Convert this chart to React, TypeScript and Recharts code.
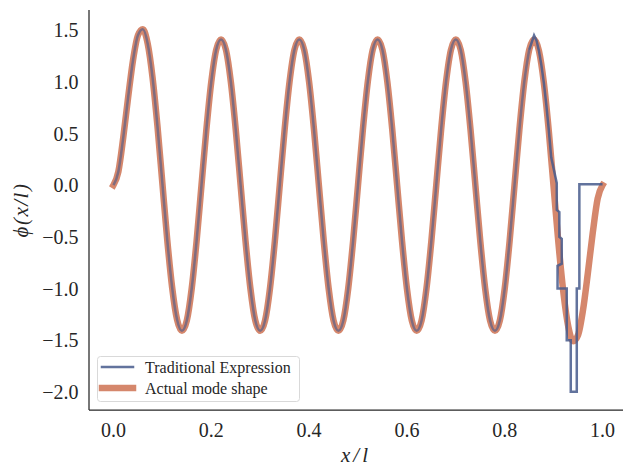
import React from 'react';
import { LineChart, Line, XAxis, YAxis, Legend, Label } from 'recharts';

const BLUE = '#465a8c';
const ORANGE = '#d5876c';
const INK = '#262626';
const SERIF = '"Liberation Serif", "DejaVu Serif", serif';

// actual mode shape phi(x/l), read every 0.01 from x = 0.00 to 1.00
const X_STEP = 0.01;
const actualShape = [
  0.0, 0.13, 0.46, 0.85, 1.21, 1.45, 1.51, 1.37, 1.04, 0.57,
  0.02, -0.53, -0.99, -1.3, -1.41, -1.31, -1.0, -0.54, 0.0, 0.54,
  1.0, 1.31, 1.41, 1.31, 1.0, 0.54, 0.0, -0.54, -1.0, -1.31,
  -1.41, -1.31, -1.0, -0.54, 0.0, 0.54, 1.0, 1.31, 1.41, 1.31,
  1.0, 0.54, 0.0, -0.54, -1.0, -1.31, -1.41, -1.31, -1.0, -0.54,
  0.0, 0.54, 1.0, 1.31, 1.41, 1.31, 1.0, 0.54, 0.0, -0.54,
  -1.0, -1.31, -1.41, -1.31, -1.0, -0.54, 0.0, 0.54, 1.0, 1.31,
  1.41, 1.31, 1.0, 0.54, 0.0, -0.54, -1.0, -1.31, -1.41, -1.31,
  -1.0, -0.54, 0.0, 0.54, 1.0, 1.31, 1.41, 1.3, 0.99, 0.53,
  -0.02, -0.57, -1.04, -1.37, -1.51, -1.45, -1.21, -0.85, -0.46, -0.13,
  0.0,
];

// traditional expression: same as the actual shape up to here...
const TRAD_SPLIT = 0.85;
// ...then it breaks up into steps near the end
const tradTailX = [
  0.85, 0.855, 0.86, 0.865, 0.87, 0.875, 0.88, 0.885, 0.89, 0.895,
  0.9064, 0.9064, 0.9117, 0.9117, 0.9166, 0.9166, 0.908, 0.908, 0.9268, 0.9268,
  0.935, 0.935, 0.9473, 0.9473, 0.9526, 0.9526, 1.0,
];
const tradTailY = [
  1.31, 1.38, 1.45, 1.4, 1.3, 1.16, 0.99, 0.78, 0.54, 0.27,
  0.02, -0.24, -0.26, -0.5, -0.52, -0.76, -0.78, -1.0, -1.0, -1.5,
  -1.5, -2.0, -2.0, -1.0, -1.0, 0.01, 0.01,
];

const xTicks = [0, 0.2, 0.4, 0.6, 0.8, 1.0];
const yTicks = [-2.0, -1.5, -1.0, -0.5, 0.0, 0.5, 1.0, 1.5];

const actualData = actualShape.map((phi, i) => ({ x: +(i * X_STEP).toFixed(2), phi }));
const tradHead = actualData.filter((d) => d.x <= TRAD_SPLIT);
const tradTail = tradTailX.map((x, i) => ({ x, phi: tradTailY[i] }));

const fmtX = (v: number) => v.toFixed(1);
const fmtY = (v: number) => (v < 0 ? '\u2212' : '') + Math.abs(v).toFixed(1);

const tickStyle = { fill: INK, fontSize: 20, fontFamily: SERIF };

function XTitle(props: any) {
  const vb = props.viewBox || { x: 89, y: 410, width: 538, height: 56 };
  const cx = 89 + (623 - 89) / 2;
  return (
    <text x={cx} y={vb.y + vb.height - 4} textAnchor="middle" fill={INK}
      style={{ fontFamily: SERIF, fontSize: 21, fontStyle: 'italic', letterSpacing: 3 }}>
      x/l
    </text>
  );
}

function YTitle(props: any) {
  const vb = props.viewBox || { x: 0, y: 10, width: 89, height: 400 };
  const x = vb.x + 21;
  const y = vb.y + vb.height / 2;
  return (
    <text x={x} y={y} textAnchor="middle" dominantBaseline="central" fill={INK}
      transform={`rotate(-90 ${x} ${y})`}
      style={{ fontFamily: SERIF, fontSize: 21, fontStyle: 'italic', letterSpacing: 1.5 }}>
      ϕ(x/l)
    </text>
  );
}

function LegendBox() {
  return (
    <svg width={204} height={47} style={{ display: 'block' }}>
      <rect x={0.5} y={0.5} width={202} height={45} rx={3} fill="#fff" fillOpacity={0.8} stroke="#d9d9d9" />
      <line x1={5} x2={36} y1={11} y2={11} stroke={BLUE} strokeOpacity={0.85} strokeWidth={2.5} strokeLinecap="square" />
      <line x1={5} x2={36} y1={32} y2={32} stroke={ORANGE} strokeWidth={6.5} strokeLinecap="square" />
      <text x={48} y={16.5} fill={INK} style={{ fontFamily: SERIF, fontSize: 16 }}>Traditional Expression</text>
      <text x={48} y={37.5} fill={INK} style={{ fontFamily: SERIF, fontSize: 16 }}>Actual mode shape</text>
    </svg>
  );
}

export default function App() {
  return (
    <div style={{ position: 'absolute', left: 0, top: 0, width: 623, height: 466, overflow: 'hidden', background: '#fff' }}>
      <LineChart width={627} height={466} margin={{ top: 10, right: 0, bottom: 0, left: 0 }}>
        <XAxis
          type="number"
          dataKey="x"
          domain={[-0.05, 1.05]}
          allowDataOverflow
          ticks={xTicks}
          interval={0}
          tickFormatter={fmtX}
          tickLine={false}
          tickSize={0}
          tickMargin={13}
          height={56}
          axisLine={{ stroke: INK, strokeWidth: 1.25 }}
          tick={tickStyle}
        >
          <Label content={XTitle} />
        </XAxis>
        <YAxis
          type="number"
          domain={[-2.176, 1.696]}
          allowDataOverflow
          ticks={yTicks}
          interval={0}
          tickFormatter={fmtY}
          tickLine={false}
          tickSize={0}
          tickMargin={10.5}
          width={89}
          axisLine={{ stroke: INK, strokeWidth: 1.25 }}
          tick={tickStyle}
        >
          <Label content={YTitle} />
        </YAxis>
        <Legend
          layout="horizontal"
          verticalAlign="middle"
          align="center"
          wrapperStyle={{ left: 97, top: 356, width: 204, height: 47 }}
          content={() => <LegendBox />}
        />
        <Line data={actualData} dataKey="phi" type="monotone" stroke={ORANGE}
          strokeWidth={6.5} strokeLinecap="square" dot={false} activeDot={false} isAnimationActive={false} />
        <Line data={tradHead} dataKey="phi" type="monotone" stroke={BLUE} strokeOpacity={0.6} strokeWidth={2.5}
          dot={false} activeDot={false} isAnimationActive={false} />
        <Line data={tradTail} dataKey="phi" type="linear" stroke={BLUE} strokeOpacity={0.85} strokeWidth={2.5}
          strokeLinejoin="miter" dot={false} activeDot={false} isAnimationActive={false} />
      </LineChart>
    </div>
  );
}
